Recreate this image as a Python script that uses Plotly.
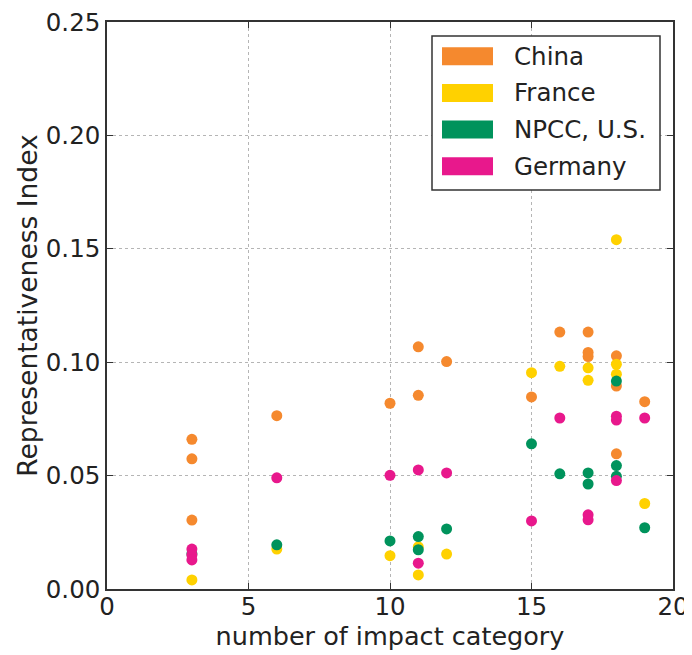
import plotly.graph_objects as go

# ---- data ----
series_names = ["China", "France", "NPCC, U.S.", "Germany"]
series_colors = ["#f5892e", "#ffd100", "#00935c", "#e8188c"]

china_x = [3, 3, 3, 6, 10, 11, 11, 12, 15, 16, 17, 17, 17, 18, 18, 18, 19]
china_y = [0.066, 0.0574, 0.0304, 0.0764, 0.0819, 0.1068, 0.0854, 0.1003, 0.0847,
           0.1133, 0.1133, 0.1043, 0.1025, 0.1028, 0.0895, 0.0596, 0.0826]

france_x = [3, 6, 10, 11, 11, 12, 15, 16, 17, 17, 18, 18, 18, 19]
france_y = [0.004, 0.0176, 0.0147, 0.0186, 0.0062, 0.0154, 0.0954, 0.0982,
            0.0975, 0.092, 0.154, 0.0991, 0.0947, 0.0377]

npcc_x = [3, 6, 10, 11, 11, 12, 15, 16, 17, 17, 18, 18, 18, 19]
npcc_y = [0.0155, 0.0195, 0.0212, 0.0231, 0.0173, 0.0265, 0.064, 0.0508,
          0.0512, 0.0463, 0.0917, 0.0544, 0.0497, 0.027]

germany_x = [3, 3, 3, 6, 10, 11, 11, 12, 15, 16, 17, 17, 18, 18, 18, 19]
germany_y = [0.0176, 0.015, 0.0128, 0.049, 0.0501, 0.0525, 0.0114, 0.0512, 0.030,
             0.0754, 0.0327, 0.0305, 0.0762, 0.0745, 0.0478, 0.0754]

x_ticks = [0, 5, 10, 15, 20]
y_ticks = [0.0, 0.05, 0.10, 0.15, 0.20, 0.25]
y_tick_labels = ["0.00", "0.05", "0.10", "0.15", "0.20", "0.25"]

series_x = [china_x, france_x, npcc_x, germany_x]
series_y = [china_y, france_y, npcc_y, germany_y]

FONT = "DejaVu Sans"
FS = 24.5
OFF = 8  # page body offset
W, H = 692, 655
# target plot box on screen: x 107..673, y 22..589
L, R, T, B = 107 - OFF, W - (673 - OFF), 22 - OFF, H - (589 - OFF)

fig = go.Figure()
for name, col, xs, ys in zip(series_names, series_colors, series_x, series_y):
    fig.add_trace(go.Scatter(x=xs, y=ys, mode="markers", name=name,
                             marker=dict(color=col, size=11, line=dict(width=0)),
                             showlegend=False))

# helpers: screen pixel -> paper
pw = W - L - R
ph = H - T - B
def px(x):
    return (x - OFF - L) / pw
def py(y):
    return (H - B - (y - OFF)) / ph

shapes = []
# legend box
shapes.append(dict(type="rect", xref="paper", yref="paper",
                   x0=px(432), x1=px(660), y0=py(190), y1=py(36),
                   line=dict(color="#333333", width=1.5), fillcolor="white", layer="above"))
annotations = []
centers = [56.2, 92.9, 129.5, 166.2]
for name, col, cy in zip(series_names, series_colors, centers):
    shapes.append(dict(type="rect", xref="paper", yref="paper",
                       x0=px(442), x1=px(493), y0=py(cy + 9), y1=py(cy - 9),
                       line=dict(width=0), fillcolor=col, layer="above"))
    annotations.append(dict(xref="paper", yref="paper", x=px(512), y=py(cy),
                            text=name, showarrow=False, xanchor="left", yanchor="middle",
                            font=dict(family=FONT, size=FS, color="#222222")))

fig.update_layout(
    width=W, height=H,
    margin=dict(l=L, r=R, t=T, b=B),
    paper_bgcolor="white", plot_bgcolor="white",
    font=dict(family=FONT, size=FS, color="#222222"),
    shapes=shapes, annotations=annotations,
    showlegend=False,
)
fig.update_xaxes(range=[0, 20], tickvals=x_ticks, ticks="inside", ticklen=6,
                 tickcolor="#333333", showline=True, linecolor="#333333", linewidth=1.5,
                 mirror="ticks", showgrid=True, gridcolor="#b5b5b5", griddash="dot",
                 gridwidth=1, zeroline=False, automargin=False,
                 ticklabeloverflow="allow", ticklabelstandoff=-5,
                 title=dict(text="number of impact category", font=dict(size=25.5), standoff=0))
fig.update_yaxes(range=[0, 0.25], tickvals=y_ticks, ticktext=y_tick_labels, ticks="inside",
                 ticklen=6, tickcolor="#333333", showline=True, linecolor="#333333",
                 linewidth=1.5, mirror="ticks", showgrid=True, gridcolor="#b5b5b5",
                 griddash="dot", gridwidth=1, zeroline=False, automargin=False,
                 ticklabeloverflow="allow",
                 title=dict(text="Representativeness Index", font=dict(size=26.5), standoff=1))

fig.write_html("out.html")
